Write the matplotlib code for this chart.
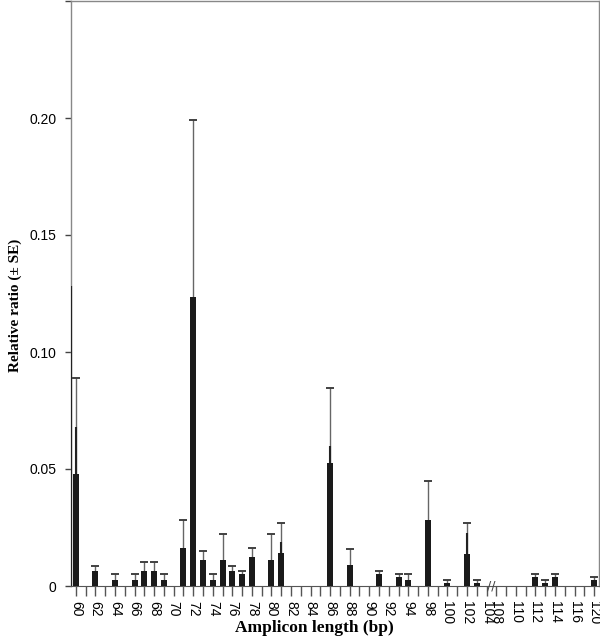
import matplotlib
matplotlib.use("Agg")
import matplotlib.pyplot as plt

# Category slots along the x axis (one slot per tick) and the labelled ones
n_slots = 54
label_slots = [0, 2, 4, 6, 8, 10, 12, 14, 16, 18, 20, 22, 24, 26, 28, 30, 32, 34,
               36, 38, 40, 42, 43, 45, 47, 49, 51, 53]
label_text = ['60', '62', '64', '66', '68', '70', '72', '74', '76', '78', '80', '82',
              '84', '86', '88', '90', '92', '94', '98', '100', '102', '104', '108',
              '110', '112', '114', '116', '120']

# Bars: slot index, relative ratio, SE (upper) and darker inner part of the SE line
bar_slot = [0, 2, 4, 6, 7, 8, 9, 11, 12, 13, 14, 15, 16, 17, 18, 20, 21, 26, 28,
            31, 33, 34, 36, 38, 40, 41, 47, 48, 49, 53]
ratio = [0.0479, 0.0064, 0.0027, 0.0027, 0.0064, 0.0064, 0.0027, 0.0164, 0.1235,
         0.0113, 0.0027, 0.0113, 0.0064, 0.0053, 0.0124, 0.0113, 0.0140, 0.0526,
         0.0088, 0.0053, 0.0038, 0.0027, 0.0282, 0.0014, 0.0138, 0.0014, 0.0040,
         0.0014, 0.0040, 0.0027]
se = [0.0411, 0.0023, 0.0024, 0.0024, 0.0037, 0.0037, 0.0024, 0.0118, 0.0755,
      0.0035, 0.0024, 0.0109, 0.0023, 0.0010, 0.0037, 0.0109, 0.0130, 0.0320,
      0.0072, 0.0011, 0.0013, 0.0024, 0.0167, 0.0013, 0.0133, 0.0013, 0.0011,
      0.0013, 0.0011, 0.0013]
se_inner = [0.020, 0, 0, 0, 0, 0, 0, 0, 0, 0, 0, 0, 0, 0, 0, 0, 0.005, 0.0074,
            0, 0, 0, 0, 0, 0, 0.009, 0, 0, 0, 0, 0]
edge_line = 0.128  # dark line drawn along the left axis in the original

y_ticks = [0, 0.05, 0.10, 0.15, 0.20, 0.25]
y_ticklabels = ['0', '0.05', '0.10', '0.15', '0.20', '']

fig = plt.figure(figsize=(6, 6.4), dpi=100)
ax = fig.add_axes([71 / 600, 54 / 640, 528 / 600, 585 / 640])

ax.bar(bar_slot, ratio, width=0.62, color='#1a1a1a', zorder=3)

# upper SE only: thin line + cap
tops = [r + s for r, s in zip(ratio, se)]
ax.vlines(bar_slot, ratio, tops, color='#666666', lw=1, zorder=2)
ax.plot(bar_slot, tops, ls='none', marker='_', ms=6, mew=1.3, color='#333333', zorder=2)
for x, r, s in zip(bar_slot, ratio, se_inner):
    if s > 0:
        ax.vlines(x, r, r + s, color='#222222', lw=1.5, zorder=2)
ax.vlines(-0.45, 0, edge_line, color='#222222', lw=1.6, zorder=4)

ax.set_xlim(-0.5, n_slots - 0.5)
ax.set_ylim(0, 0.25)

ax.set_xticks(range(n_slots))
labels = [''] * n_slots
for s, t in zip(label_slots, label_text):
    labels[s] = t
ax.set_xticklabels(labels, rotation=-90, fontsize=10, family='Liberation Sans')
ax.tick_params(axis='x', length=7.5, width=1, color='#555555', pad=3)

ax.set_yticks(y_ticks)
ax.set_yticklabels(y_ticklabels, fontsize=10, family='Liberation Sans')
ax.tick_params(axis='y', length=4.5, width=1, color='#444444', pad=6)

# axis break between 104 and 108
ax.text(42.5, 0, '//', ha='center', va='center', fontsize=9, color='#444444',
        family='DejaVu Sans')

for side in ['left', 'top', 'right']:
    ax.spines[side].set_color('#888888')
    ax.spines[side].set_linewidth(1)
ax.spines['bottom'].set_color('#555555')

ax.set_xlabel('Amplicon length (bp)', family='Liberation Serif', fontweight='bold',
              fontsize=12.5)
ax.xaxis.set_label_coords(0.46, -0.058)
ax.set_ylabel('Relative ratio (± SE)', family='Liberation Serif', fontweight='bold',
              fontsize=11)
ax.yaxis.set_label_coords(-0.092, 0.48)

fig.savefig('out.png', dpi=100)
